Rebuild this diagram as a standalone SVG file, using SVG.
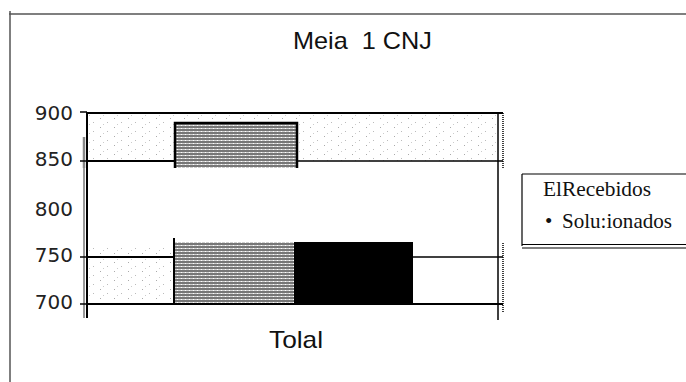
<svg xmlns="http://www.w3.org/2000/svg" width="686" height="382" viewBox="0 0 686 382">
<style>
.sans{font-family:"Liberation Sans",Arial,sans-serif;fill:#111}
.axisnum{font-family:"DejaVu Sans","Liberation Sans",sans-serif;font-size:20px;fill:#222;text-anchor:end}
.serif{font-family:"Liberation Serif","Times New Roman",serif;font-size:21px;fill:#111}
.ln{stroke:#000;fill:none}
</style>
<defs>
<pattern id="stripes" width="4" height="3" patternUnits="userSpaceOnUse">
<rect width="4" height="3" fill="#cfcfcf"/>
<rect width="4" height="2" fill="#777"/>
<rect x="1" y="2" width="1" height="1" fill="#fff"/>
</pattern>
<pattern id="stipple" width="14" height="9" patternUnits="userSpaceOnUse">
<rect x="2" y="1" width="1" height="1" fill="#aaa"/>
<rect x="9" y="5" width="1" height="1" fill="#bbb"/>
<rect x="5" y="7" width="1" height="1" fill="#ccc"/>
</pattern>
</defs>

<g id="frame">
<line x1="9" y1="14" x2="686" y2="14" stroke="#555" stroke-width="1.5"/>
<line x1="10" y1="11" x2="10" y2="382" stroke="#555" stroke-width="1.5"/>
</g>

<g id="title">
<text class="sans" x="293" y="49" font-size="24" xml:space="preserve" textLength="139" lengthAdjust="spacingAndGlyphs">Meia  1 CNJ</text>
</g>

<g id="plot-background">
<rect x="87" y="113" width="411" height="48" fill="url(#stipple)"/>
<rect x="88" y="245" width="86" height="56" fill="url(#stipple)"/>
</g>

<g id="bars">
<rect x="175" y="123" width="122" height="45" fill="url(#stripes)"/>
<path class="ln" d="M175,168 V123 H297 V168" stroke-width="2.5"/>
<rect x="174" y="242" width="120" height="63" fill="url(#stripes)"/>
<line class="ln" x1="174" y1="238" x2="174" y2="305" stroke-width="2"/>
<rect x="294" y="242" width="119" height="62" fill="#000"/>
</g>

<g id="axes">
<line class="ln" x1="87" y1="112" x2="87" y2="318" stroke-width="2"/>
<line x1="84" y1="137" x2="84" y2="168" stroke="#888" stroke-width="2.5"/>
<line class="ln" x1="84" y1="168" x2="84" y2="318" stroke-width="0.8"/>
<line class="ln" x1="498" y1="113" x2="498" y2="320" stroke-width="1.5"/>
<line class="ln" x1="503" y1="113" x2="503" y2="168" stroke-width="1.5" stroke-dasharray="1 1"/>
<line class="ln" x1="503" y1="243" x2="503" y2="312" stroke-width="1.5" stroke-dasharray="1 1"/>
<line class="ln" x1="87" y1="113" x2="503" y2="113" stroke-width="2"/>
<line class="ln" x1="87" y1="161" x2="175" y2="161" stroke-width="1.8"/>
<line class="ln" x1="297" y1="161" x2="503" y2="161" stroke-width="1.5"/>
<line class="ln" x1="87" y1="257" x2="174" y2="257" stroke-width="1.8"/>
<line class="ln" x1="413" y1="257" x2="503" y2="257" stroke-width="1.5"/>
<line class="ln" x1="87" y1="304" x2="503" y2="304" stroke-width="2"/>
<line class="ln" x1="80" y1="112" x2="87" y2="112" stroke-width="1.5"/>
<line class="ln" x1="80" y1="161" x2="87" y2="161" stroke-width="1.5"/>
<line class="ln" x1="80" y1="257" x2="87" y2="257" stroke-width="1.5"/>
<line class="ln" x1="80" y1="304" x2="87" y2="304" stroke-width="1.5"/>
<text class="axisnum" x="73" y="120">900</text>
<text class="axisnum" x="73" y="166">850</text>
<text class="axisnum" x="73" y="216">800</text>
<text class="axisnum" x="73" y="262">750</text>
<text class="axisnum" x="73" y="309">700</text>
<text class="sans" x="269" y="348" font-size="24" textLength="54" lengthAdjust="spacingAndGlyphs">Tolal</text>
</g>

<g id="legend">
<line class="ln" x1="522" y1="174" x2="686" y2="174" stroke-width="1.2"/>
<line class="ln" x1="522" y1="174" x2="522" y2="246" stroke-width="1.2"/>
<line class="ln" x1="522" y1="244.5" x2="686" y2="244.5" stroke-width="1.2"/>
<line class="ln" x1="522" y1="248" x2="686" y2="248" stroke-width="1.2"/>
<text class="serif" x="543" y="196" textLength="108" lengthAdjust="spacingAndGlyphs">ElRecebidos</text>
<text class="serif" x="545" y="228">•</text>
<text class="serif" x="562" y="228" textLength="110" lengthAdjust="spacingAndGlyphs">Solu:ionados</text>
</g>
</svg>
